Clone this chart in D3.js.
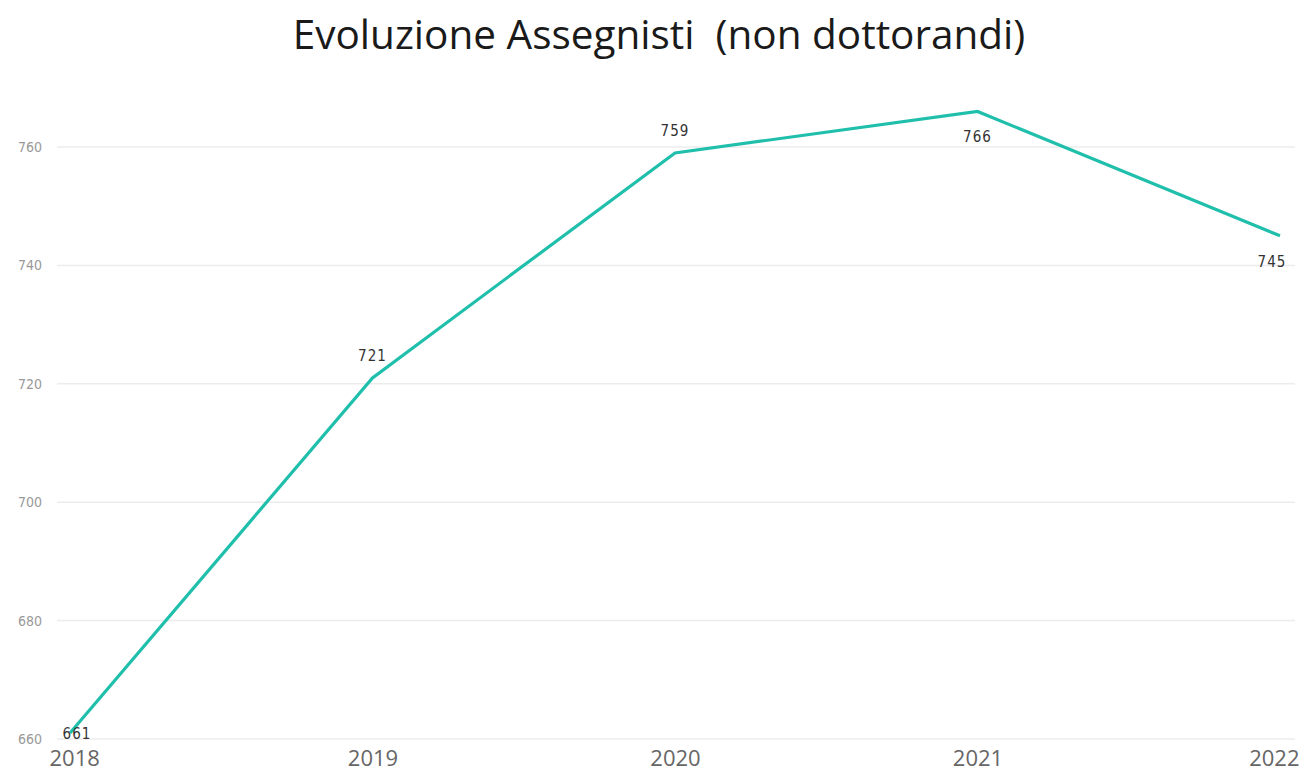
<!DOCTYPE html>
<html>
<head>
<meta charset="utf-8">
<script src="https://cdn.jsdelivr.net/npm/d3@7"></script>
<style>
  html, body { margin: 0; padding: 0; background: #fff; }
  svg { display: block; }
</style>
</head>
<body>
<svg id="chart"></svg>
<script>
// Data
const years = ["2018", "2019", "2020", "2021", "2022"];
const values = [661, 721, 759, 766, 745];
const yTicks = [660, 680, 700, 720, 740, 760];

const width = 1309;
const height = 777;
const svg = d3.select("#chart").attr("width", width).attr("height", height);

// Scales
const x = d3.scalePoint().domain(years).range([70, 1280]);
const y = d3.scaleLinear().domain([660, 760]).range([739, 147]);

// Title
svg.append("text")
  .attr("x", 659)
  .attr("y", 49)
  .attr("text-anchor", "middle")
  .attr("font-family", "'Open Sans', sans-serif")
  .attr("font-size", 40.5)
  .attr("fill", "#1a1a1a")
  .style("white-space", "pre")
  .text("Evoluzione Assegnisti  (non dottorandi)");

// Gridlines
svg.append("g").selectAll("line")
  .data(yTicks)
  .join("line")
  .attr("x1", 57).attr("x2", 1295)
  .attr("y1", d => y(d)).attr("y2", d => y(d))
  .attr("stroke", "#ececec")
  .attr("stroke-width", 1.5);

// Y axis labels
const yAxis = svg.append("g")
  .attr("transform", "translate(42,0)")
  .call(d3.axisLeft(y).tickValues(yTicks).tickSize(0).tickPadding(0));
yAxis.select(".domain").remove();
yAxis.selectAll("text")
  .attr("font-family", "'DejaVu Sans Condensed', 'Liberation Sans Narrow', sans-serif")
  .attr("font-size", 14)
  .attr("fill", "#999");

// X axis labels
const xAxis = svg.append("g")
  .attr("transform", "translate(0,748)")
  .call(d3.axisBottom(x).tickSize(0).tickPadding(0));
xAxis.select(".domain").remove();
xAxis.selectAll("text")
  .attr("dy", "0.8em")
  .attr("font-family", "'Open Sans', sans-serif")
  .attr("font-size", 22)
  .attr("fill", "#666")
  .attr("text-anchor", (d, i) => i === 0 ? "start" : (i === years.length - 1 ? "end" : "middle"))
  .attr("dx", (d, i) => i === 0 ? -21 : (i === years.length - 1 ? 19 : 0));

// Line
const line = d3.line()
  .x((d, i) => x(years[i]))
  .y(d => y(d));

svg.append("path")
  .datum(values)
  .attr("d", line)
  .attr("fill", "none")
  .attr("stroke", "#1fbfab")
  .attr("stroke-width", 3.2)
  .attr("stroke-linejoin", "miter");

// Data labels
svg.append("g").selectAll("text")
  .data(values)
  .join("text")
  .attr("x", (d, i) => x(years[i]) + (i === 0 ? 7 : (i === years.length - 1 ? -8 : 0)))
  .attr("y", (d, i) => {
    if (i === 0) return y(d) + 6;
    if (i >= 3) return y(d) + 31;
    return y(d) - 17;
  })
  .attr("text-anchor", "middle")
  .attr("font-family", "'DejaVu Sans Condensed', 'Liberation Sans Narrow', sans-serif")
  .attr("font-size", 15)
  .attr("letter-spacing", 1)
  .attr("fill", "#333")
  .text(d => d);
</script>
</body>
</html>
